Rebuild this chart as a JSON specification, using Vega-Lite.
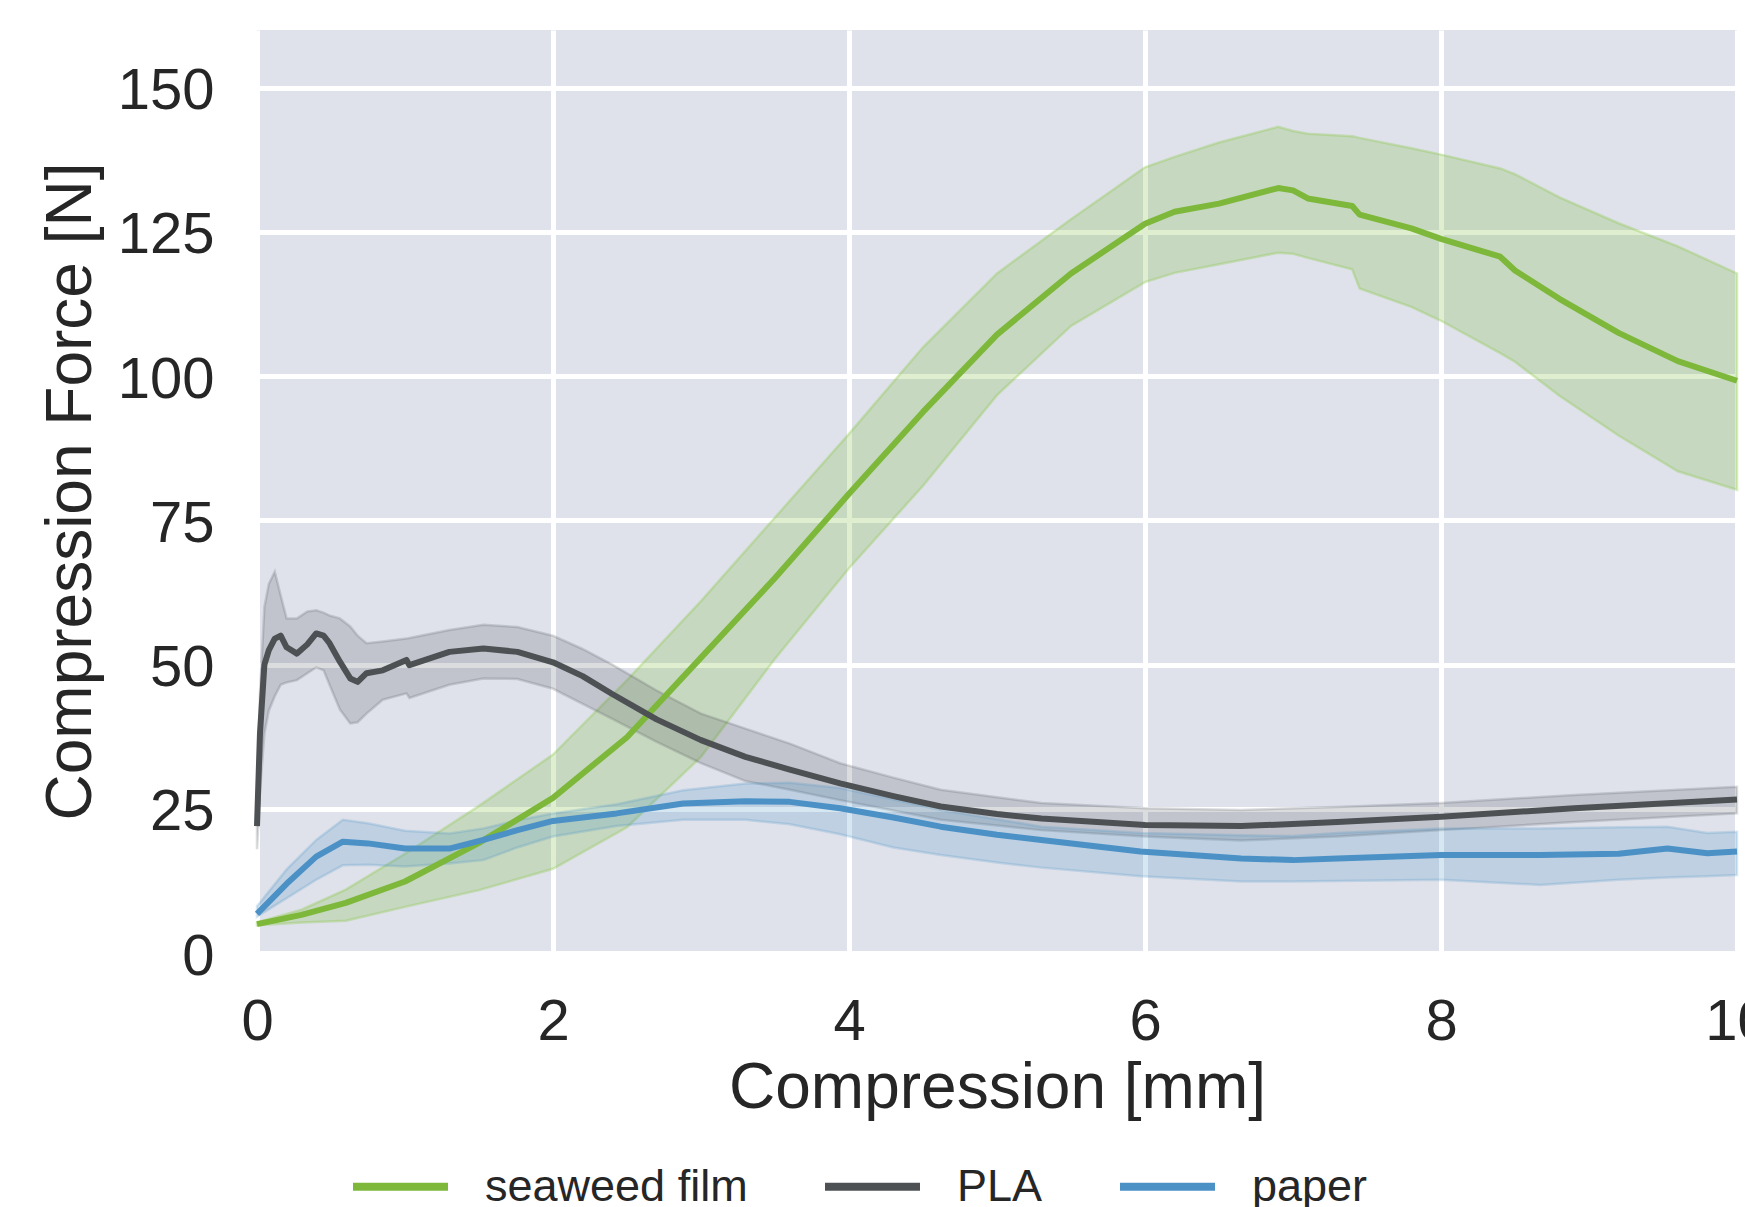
{
  "$schema": "https://vega.github.io/schema/vega-lite/v6.json",
  "width": 1480,
  "height": 923,
  "autosize": {"type": "none"},
  "padding": {"left": 257, "top": 30, "right": 8, "bottom": 254},
  "background": "white",
  "config": {
    "view": {"fill": "#dfe2eb", "stroke": null},
    "font": "Liberation Sans",
    "axis": {
      "domain": false, "ticks": false, "grid": true, "gridColor": "white", "gridWidth": 5, "gridOpacity": 1,
      "labelFont": "Liberation Sans", "labelFontSize": 58, "labelColor": "#262626",
      "titleFont": "Liberation Sans", "titleFontSize": 64, "titleFontWeight": "normal", "titleColor": "#262626",
      "labelOverlap": false, "labelFlush": false, "labelBound": false
    },
    "legend": {"labelFont": "Liberation Sans"}
  },
  "data": {"values": [
    {"s":"seaweed film","x":0,"m":5.0,"lo":4.8,"hi":5.3},
    {"s":"seaweed film","x":0.3,"m":6.6,"lo":5.3,"hi":7.5},
    {"s":"seaweed film","x":0.6,"m":8.7,"lo":5.6,"hi":11.0},
    {"s":"seaweed film","x":1.0,"m":12.4,"lo":8.0,"hi":17.2},
    {"s":"seaweed film","x":1.5,"m":19.1,"lo":10.9,"hi":25.5},
    {"s":"seaweed film","x":2.0,"m":26.9,"lo":14.6,"hi":34.4},
    {"s":"seaweed film","x":2.5,"m":37.4,"lo":21.8,"hi":47.3},
    {"s":"seaweed film","x":3.0,"m":51.2,"lo":34.0,"hi":61.0},
    {"s":"seaweed film","x":3.5,"m":65.0,"lo":51.0,"hi":75.5},
    {"s":"seaweed film","x":4.0,"m":79.6,"lo":66.7,"hi":90.0},
    {"s":"seaweed film","x":4.5,"m":93.8,"lo":81.0,"hi":105.0},
    {"s":"seaweed film","x":5.0,"m":107.2,"lo":96.7,"hi":117.8},
    {"s":"seaweed film","x":5.5,"m":117.8,"lo":108.7,"hi":127.2},
    {"s":"seaweed film","x":6.0,"m":126.4,"lo":116.3,"hi":136.2},
    {"s":"seaweed film","x":6.2,"m":128.5,"lo":117.9,"hi":138.0},
    {"s":"seaweed film","x":6.5,"m":129.9,"lo":119.4,"hi":140.5},
    {"s":"seaweed film","x":6.9,"m":132.6,"lo":121.4,"hi":143.2},
    {"s":"seaweed film","x":7.0,"m":132.2,"lo":121.2,"hi":142.5},
    {"s":"seaweed film","x":7.1,"m":130.8,"lo":120.5,"hi":142.0},
    {"s":"seaweed film","x":7.4,"m":129.5,"lo":118.5,"hi":141.6},
    {"s":"seaweed film","x":7.45,"m":128.0,"lo":115.2,"hi":141.3},
    {"s":"seaweed film","x":7.8,"m":125.6,"lo":112.0,"hi":139.5},
    {"s":"seaweed film","x":8.0,"m":123.8,"lo":109.6,"hi":138.4},
    {"s":"seaweed film","x":8.4,"m":120.7,"lo":104.0,"hi":136.0},
    {"s":"seaweed film","x":8.5,"m":118.3,"lo":102.5,"hi":135.0},
    {"s":"seaweed film","x":8.8,"m":113.4,"lo":96.6,"hi":131.0},
    {"s":"seaweed film","x":9.2,"m":107.5,"lo":89.7,"hi":126.5},
    {"s":"seaweed film","x":9.6,"m":102.6,"lo":83.5,"hi":122.5},
    {"s":"seaweed film","x":10.0,"m":99.2,"lo":80.3,"hi":117.8},

    {"s":"PLA","x":0,"m":22,"lo":18,"hi":25},
    {"s":"PLA","x":0.02,"m":38,"lo":28,"hi":45},
    {"s":"PLA","x":0.05,"m":50,"lo":38,"hi":60},
    {"s":"PLA","x":0.08,"m":52.5,"lo":42,"hi":64},
    {"s":"PLA","x":0.12,"m":54.5,"lo":44.5,"hi":66.1},
    {"s":"PLA","x":0.16,"m":55.0,"lo":46.5,"hi":62},
    {"s":"PLA","x":0.2,"m":53.0,"lo":46.9,"hi":58},
    {"s":"PLA","x":0.27,"m":51.9,"lo":47.3,"hi":58},
    {"s":"PLA","x":0.34,"m":53.5,"lo":48.5,"hi":59.2},
    {"s":"PLA","x":0.4,"m":55.4,"lo":49.5,"hi":59.4},
    {"s":"PLA","x":0.45,"m":55.0,"lo":49.0,"hi":59.0},
    {"s":"PLA","x":0.49,"m":53.7,"lo":46.5,"hi":58.5},
    {"s":"PLA","x":0.56,"m":50.5,"lo":42.2,"hi":58.0},
    {"s":"PLA","x":0.63,"m":47.6,"lo":39.8,"hi":56.6},
    {"s":"PLA","x":0.68,"m":47.0,"lo":40.0,"hi":55.0},
    {"s":"PLA","x":0.74,"m":48.5,"lo":41.5,"hi":53.7},
    {"s":"PLA","x":0.85,"m":49.0,"lo":43.9,"hi":54.0},
    {"s":"PLA","x":1.01,"m":50.8,"lo":45.0,"hi":54.5},
    {"s":"PLA","x":1.03,"m":49.9,"lo":44.2,"hi":54.6},
    {"s":"PLA","x":1.3,"m":52.2,"lo":46.5,"hi":56.0},
    {"s":"PLA","x":1.53,"m":52.8,"lo":47.6,"hi":56.9},
    {"s":"PLA","x":1.76,"m":52.2,"lo":47.5,"hi":56.5},
    {"s":"PLA","x":2.0,"m":50.4,"lo":45.8,"hi":55.0},
    {"s":"PLA","x":2.2,"m":48.0,"lo":43.2,"hi":52.7},
    {"s":"PLA","x":2.4,"m":44.9,"lo":40.6,"hi":50.0},
    {"s":"PLA","x":2.7,"m":40.5,"lo":36.6,"hi":45.5},
    {"s":"PLA","x":3.0,"m":36.9,"lo":32.9,"hi":41.5},
    {"s":"PLA","x":3.3,"m":34.0,"lo":29.8,"hi":38.9},
    {"s":"PLA","x":3.6,"m":31.8,"lo":28.3,"hi":36.3},
    {"s":"PLA","x":3.94,"m":29.4,"lo":26.5,"hi":32.9},
    {"s":"PLA","x":4.3,"m":27.2,"lo":24.7,"hi":30.4},
    {"s":"PLA","x":4.62,"m":25.4,"lo":23.1,"hi":28.3},
    {"s":"PLA","x":5.0,"m":24.1,"lo":22.1,"hi":27.0},
    {"s":"PLA","x":5.3,"m":23.3,"lo":21.3,"hi":26.0},
    {"s":"PLA","x":6.0,"m":22.2,"lo":20.2,"hi":25.1},
    {"s":"PLA","x":6.65,"m":22.0,"lo":19.5,"hi":24.8},
    {"s":"PLA","x":7.3,"m":22.7,"lo":20.2,"hi":25.3},
    {"s":"PLA","x":8.0,"m":23.6,"lo":21.3,"hi":26.0},
    {"s":"PLA","x":8.9,"m":25.1,"lo":22.7,"hi":27.4},
    {"s":"PLA","x":10.0,"m":26.6,"lo":24.2,"hi":28.8},

    {"s":"paper","x":0,"m":6.8,"lo":6.3,"hi":8.1},
    {"s":"paper","x":0.2,"m":12.0,"lo":9.5,"hi":14.5},
    {"s":"paper","x":0.4,"m":16.7,"lo":12.7,"hi":19.6},
    {"s":"paper","x":0.58,"m":19.3,"lo":15.2,"hi":23.1},
    {"s":"paper","x":0.75,"m":19.0,"lo":15.3,"hi":22.5},
    {"s":"paper","x":1.0,"m":18.1,"lo":15.0,"hi":21.2},
    {"s":"paper","x":1.3,"m":18.1,"lo":15.5,"hi":20.7},
    {"s":"paper","x":1.53,"m":19.6,"lo":16.1,"hi":21.6},
    {"s":"paper","x":1.76,"m":21.3,"lo":18.3,"hi":23.0},
    {"s":"paper","x":2.0,"m":22.9,"lo":20.2,"hi":24.2},
    {"s":"paper","x":2.43,"m":24.2,"lo":22.0,"hi":25.8},
    {"s":"paper","x":2.88,"m":25.9,"lo":23.1,"hi":28.2},
    {"s":"paper","x":3.3,"m":26.3,"lo":23.1,"hi":29.4},
    {"s":"paper","x":3.6,"m":26.2,"lo":22.3,"hi":29.5},
    {"s":"paper","x":3.94,"m":25.1,"lo":20.6,"hi":28.6},
    {"s":"paper","x":4.3,"m":23.5,"lo":18.3,"hi":26.6},
    {"s":"paper","x":4.62,"m":21.9,"lo":17.0,"hi":24.8},
    {"s":"paper","x":5.0,"m":20.5,"lo":15.7,"hi":23.2},
    {"s":"paper","x":5.3,"m":19.6,"lo":14.8,"hi":21.9},
    {"s":"paper","x":5.97,"m":17.6,"lo":13.3,"hi":20.8},
    {"s":"paper","x":6.65,"m":16.4,"lo":12.4,"hi":20.4},
    {"s":"paper","x":7.0,"m":16.1,"lo":12.4,"hi":20.3},
    {"s":"paper","x":7.3,"m":16.4,"lo":12.5,"hi":20.8},
    {"s":"paper","x":8.0,"m":17.0,"lo":12.7,"hi":21.6},
    {"s":"paper","x":8.67,"m":17.0,"lo":11.8,"hi":21.6},
    {"s":"paper","x":9.2,"m":17.2,"lo":12.7,"hi":21.8},
    {"s":"paper","x":9.53,"m":18.1,"lo":13.1,"hi":21.9},
    {"s":"paper","x":9.8,"m":17.3,"lo":13.3,"hi":20.8},
    {"s":"paper","x":10.0,"m":17.6,"lo":13.5,"hi":21.0}
  ]},
  "encoding": {
    "x": {"field": "x", "type": "quantitative", "scale": {"domain": [0, 10], "nice": false, "zero": false},
      "axis": {"values": [0, 2, 4, 6, 8, 10], "labelPadding": 40, "title": "Compression [mm]",
        "titleX": 740, "titleY": 154, "titleBaseline": "alphabetic", "titleAlign": "center", "titleAnchor": null}}
  },
  "layer": [
    {
      "transform": [{"filter": "datum.s === 'seaweed film'"}],
      "mark": {"type": "area", "color": "#7db83a", "fillOpacity": 0.24, "stroke": "#8cc84a", "strokeWidth": 2.5, "strokeOpacity": 0.35},
      "encoding": {
        "y": {"field": "lo", "type": "quantitative", "scale": {"domain": [0, 160], "nice": false, "zero": false},
          "axis": {"values": [0, 25, 50, 75, 100, 125, 150], "labelPadding": 43, "labelOffset": 4, "title": "Compression Force [N]",
            "titleX": -167, "titleY": 461, "titleAngle": 270, "titleBaseline": "alphabetic", "titleAlign": "center", "titleAnchor": null}},
        "y2": {"field": "hi"}
      }
    },
    {
      "transform": [{"filter": "datum.s === 'PLA'"}],
      "mark": {"type": "area", "color": "#4d5154", "fillOpacity": 0.2, "stroke": "#4d5154", "strokeWidth": 2.5, "strokeOpacity": 0.2},
      "encoding": {"y": {"field": "lo", "type": "quantitative"}, "y2": {"field": "hi"}}
    },
    {
      "transform": [{"filter": "datum.s === 'paper'"}],
      "mark": {"type": "area", "color": "#4b91c6", "fillOpacity": 0.22, "stroke": "#4b91c6", "strokeWidth": 2.5, "strokeOpacity": 0.22},
      "encoding": {"y": {"field": "lo", "type": "quantitative"}, "y2": {"field": "hi"}}
    },
    {
      "mark": {"type": "line", "strokeWidth": 6, "strokeJoin": "round"},
      "encoding": {
        "y": {"field": "m", "type": "quantitative"},
        "color": {"field": "s", "type": "nominal",
          "scale": {"domain": ["seaweed film", "PLA", "paper"], "range": ["#7db83a", "#4d5154", "#4b91c6"]},
          "legend": {"orient": "none", "legendX": 92, "legendY": 1105, "direction": "horizontal", "title": null,
            "symbolType": "stroke", "symbolSize": 9025, "symbolStrokeWidth": 8, "labelFontSize": 45, "labelColor": "#262626",
            "labelOffset": 33, "columnPadding": 61, "padding": 0, "labelLimit": 500}}
      }
    }
  ]
}
